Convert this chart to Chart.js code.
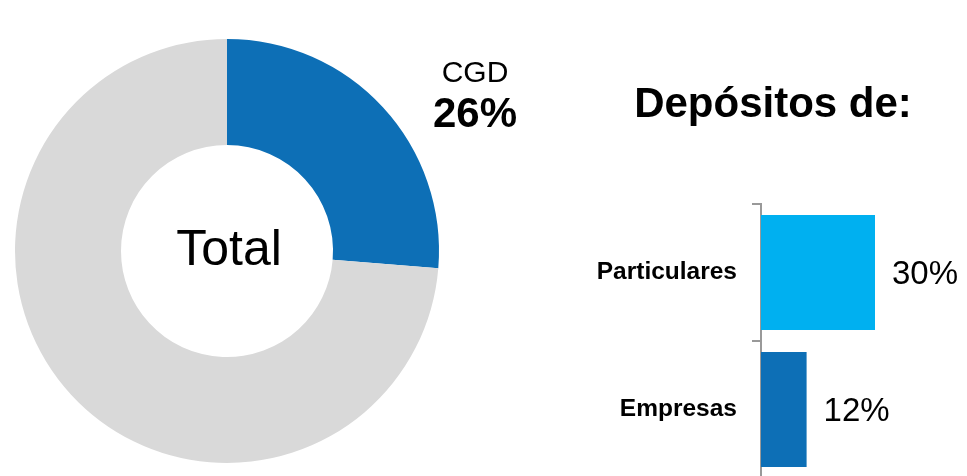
<!DOCTYPE html>
<html>
<head>
<meta charset="utf-8">
<script src="https://cdn.jsdelivr.net/npm/chart.js@4/dist/chart.umd.min.js"></script>
<style>
  html, body { margin: 0; padding: 0; background: #fff; overflow: hidden; width: 967px; height: 476px; }
  canvas { position: absolute; left: 0; top: 0; }
</style>
</head>
<body>
<canvas id="donut" width="967" height="476"></canvas>
<canvas id="bars" width="967" height="490"></canvas>
<script>
// ---- data ----
const donutLabels = ['CGD', 'Outros'];
const donutValues = [26.3, 73.7];
const donutColors = ['#0D6FB6', '#D9D9D9'];
const centerText = 'Total';

const barCategories = ['Particulares', 'Empresas'];
const barValues = [30, 12];
const barColors = ['#00B0F0', '#0D6FB6'];
const barTitle = 'Depósitos de:';

const FONT = '"Liberation Sans", Arial, Helvetica, sans-serif';

Chart.defaults.font.family = FONT;

// ---- doughnut ----
const donutText = {
  id: 'donutText',
  afterDraw(chart) {
    const ctx = chart.ctx;
    const arc = chart.getDatasetMeta(0).data[0];
    ctx.save();
    ctx.fillStyle = '#000';
    ctx.textAlign = 'center';
    ctx.textBaseline = 'middle';
    ctx.font = '50px ' + FONT;
    ctx.fillText(centerText, arc.x + 2, arc.y);
    // CGD label
    ctx.textBaseline = 'alphabetic';
    ctx.font = '30px ' + FONT;
    ctx.fillText(donutLabels[0], 475, 82);
    ctx.font = 'bold 42px ' + FONT;
    ctx.fillText(Math.round(donutValues[0]) + '%', 475, 127);
    // bar chart title
    ctx.font = 'bold 42px ' + FONT;
    ctx.fillText(barTitle, 773, 117);
    ctx.restore();
  }
};

new Chart(document.getElementById('donut'), {
  type: 'doughnut',
  data: {
    labels: donutLabels,
    datasets: [{
      data: donutValues,
      backgroundColor: donutColors,
      borderWidth: 0,
      hoverOffset: 0
    }]
  },
  options: {
    responsive: false,
    animation: false,
    devicePixelRatio: 1,
    cutout: '50%',
    rotation: 0,
    layout: { padding: { left: 15, right: 528, top: 39, bottom: 13 } },
    plugins: { legend: { display: false }, tooltip: { enabled: false } }
  },
  plugins: [donutText]
});

// ---- bars ----
const barValueLabels = {
  id: 'barValueLabels',
  afterDatasetsDraw(chart) {
    const ctx = chart.ctx;
    const meta = chart.getDatasetMeta(0);
    ctx.save();
    ctx.fillStyle = '#000';
    ctx.font = '33px ' + FONT;
    ctx.textAlign = 'left';
    ctx.textBaseline = 'middle';
    meta.data.forEach((bar, i) => {
      ctx.fillText(barValues[i] + '%', bar.x + 17, bar.y + 2);
    });
    ctx.restore();
  }
};

new Chart(document.getElementById('bars'), {
  type: 'bar',
  data: {
    labels: barCategories,
    datasets: [{
      data: barValues,
      backgroundColor: barColors,
      borderWidth: 0,
      barPercentage: 0.84,
      categoryPercentage: 1
    }]
  },
  options: {
    indexAxis: 'y',
    responsive: false,
    animation: false,
    devicePixelRatio: 1,
    layout: { padding: { left: 580, right: 16, top: 204, bottom: 12 } },
    scales: {
      x: { display: false, min: 0, max: 50 },
      y: {
        type: 'category',
        offset: true,
        grid: { offset: true, drawOnChartArea: false, drawTicks: true, tickLength: 9, color: '#999999', lineWidth: 2 },
        border: { display: true, color: '#999999', width: 2 },
        ticks: { color: '#000', padding: 15, font: { family: FONT, size: 24.5, weight: 'bold' } },
        afterFit(scale) { scale.width = 181; scale.paddingTop = 0; scale.paddingBottom = 0; }
      }
    },
    plugins: { legend: { display: false }, tooltip: { enabled: false } }
  },
  plugins: [barValueLabels]
});
</script>
</body>
</html>
